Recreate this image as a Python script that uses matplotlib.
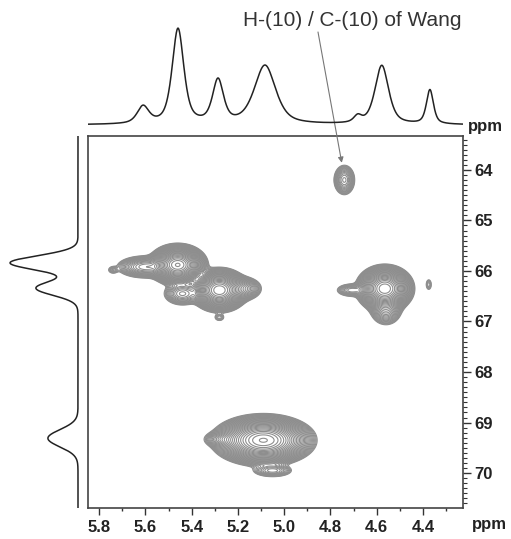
import numpy as np
import matplotlib
matplotlib.use("Agg")
import matplotlib.pyplot as plt
from matplotlib.ticker import MultipleLocator

# ---------------- data ----------------
# 1D proton projection (top): position ppm, relative height, half width (ppm)
h_pos = [5.610, 5.459, 5.286, 5.083, 4.682, 4.578, 4.370]
h_amp = [0.18, 1.00, 0.45, 0.62, 0.07, 0.62, 0.36]
h_wid = [0.030, 0.030, 0.028, 0.055, 0.020, 0.035, 0.018]

# 1D carbon projection (left)
c_pos = [65.84, 66.34, 69.31]
c_amp = [0.97, 0.60, 0.43]
c_wid = [0.14, 0.14, 0.17]

# 2D cross-peak components: H ppm, C ppm, sigma H, sigma C, amplitude
xp_h   = [5.460, 5.600, 5.740, 5.440, 5.280, 5.180, 5.280, 4.565, 4.710, 4.560, 4.375, 4.740, 5.090, 5.270, 5.050]
xp_c   = [65.88, 65.92, 65.98, 66.45, 66.38, 66.35, 66.92, 66.35, 66.38, 66.75, 66.27, 64.20, 69.35, 69.33, 69.95]
xp_sh  = [0.040, 0.050, 0.012, 0.035, 0.040, 0.035, 0.012, 0.040, 0.030, 0.030, 0.008, 0.020, 0.070, 0.035, 0.040]
xp_sc  = [0.130, 0.090, 0.040, 0.100, 0.140, 0.100, 0.040, 0.150, 0.060, 0.140, 0.070, 0.130, 0.160, 0.070, 0.060]
xp_amp = [1.00, 0.08, 0.012, 0.05, 0.80, 0.06, 0.012, 0.80, 0.03, 0.05, 0.010, 0.050, 1.00, 0.03, 0.03]

x_ticks = [5.8, 5.6, 5.4, 5.2, 5.0, 4.8, 4.6, 4.4]
y_ticks = [64, 65, 66, 67, 68, 69, 70]
annot_text = "H-(10) / C-(10) of Wang"
annot_xy = (4.751, 63.86)

# ---------------- figure ----------------
W, H = 511, 539
fig = plt.figure(figsize=(W / 100, H / 100), dpi=100)
plt.rcParams['font.family'] = ['Liberation Sans', 'DejaVu Sans']

def rect(l, t, r, b):
    return [l / W, 1 - b / H, (r - l) / W, (b - t) / H]

xlim = (5.848, 4.227)
ylim = (70.69, 63.33)

ax = fig.add_axes(rect(88, 136, 463, 508))
axt = fig.add_axes(rect(88, 20, 463, 130))
axl = fig.add_axes(rect(5, 136, 85, 508))

# 2D contour
gx = np.linspace(xlim[0], xlim[1], 700)
gy = np.linspace(ylim[1], ylim[0], 700)
X, Y = np.meshgrid(gx, gy)
Z = np.zeros_like(X)
for h0, c0, sh, sc, a in zip(xp_h, xp_c, xp_sh, xp_sc, xp_amp):
    Z += a * np.exp(-0.5 * (((X - h0) / sh) ** 2 + ((Y - c0) / sc) ** 2))
levels = np.geomspace(0.004, 0.97, 30)
ax.contour(X, Y, Z, levels=levels, colors='#8e8e8e', linewidths=0.8)

ax.set_xlim(*xlim)
ax.set_ylim(*ylim)
ax.xaxis.set_minor_locator(MultipleLocator(0.1))
ax.set_xticks(x_ticks)
ax.set_xticklabels([f"{v:.1f}" for v in x_ticks])
ax.yaxis.set_minor_locator(MultipleLocator(0.1))
ax.set_yticks(y_ticks)
ax.set_yticklabels([str(v) for v in y_ticks])
ax.yaxis.tick_right()
ax.tick_params(axis='x', which='major', direction='out', length=5, width=1.0,
               pad=4, labelsize=12, colors='#333333')
ax.tick_params(axis='x', which='minor', direction='out', length=2.5, width=1.0, colors='#333333')
ax.tick_params(axis='y', which='major', direction='out', length=6, width=1.0,
               pad=2, labelsize=12, colors='#333333')
ax.tick_params(axis='y', which='minor', direction='out', length=3, width=0.8, colors='#333333')
for lab in ax.get_xticklabels() + ax.get_yticklabels():
    lab.set_fontweight('bold')
    lab.set_color('#222222')
for s in ax.spines.values():
    s.set_color('#444444')
    s.set_linewidth(1.2)

# top projection (pseudo-Voigt lines)
hx = np.linspace(xlim[0], xlim[1], 1500)
hy = np.zeros_like(hx)
for p, a, w in zip(h_pos, h_amp, h_wid):
    lor = 1 / (1 + ((hx - p) / w) ** 2)
    gau = np.exp(-np.log(2) * ((hx - p) / w) ** 2)
    hy += a * (0.6 * lor + 0.4 * gau)
axt.plot(hx, hy, color='#222222', lw=1.1)
axt.set_xlim(*xlim)
axt.set_ylim(-0.053, 1.105)
axt.axis('off')

# left projection
cy = np.linspace(ylim[1] + 0.01, ylim[0] - 0.01, 1500)
cx = np.zeros_like(cy)
for p, a, w in zip(c_pos, c_amp, c_wid):
    cx += a * np.exp(-0.5 * ((cy - p) / w) ** 2)
axl.plot(cx, cy, color='#222222', lw=1.1)
axl.set_xlim(1.043, -0.1)
axl.set_ylim(*ylim)
axl.axis('off')

# ppm labels
fig.text(468 / W, 1 - 127 / H, "ppm", fontsize=12, fontweight='bold',
         color='#222222', ha='left', va='center')
fig.text(472 / W, 1 - 525 / H, "ppm", fontsize=12, fontweight='bold',
         color='#222222', ha='left', va='center')

# annotation
fig.text(352 / W, 1 - 20 / H, annot_text, fontsize=15, color='#333333',
         ha='center', va='center')
ax.annotate("", xy=annot_xy, xycoords='data',
            xytext=(318, H - 32), textcoords='figure pixels',
            arrowprops=dict(arrowstyle='-|>', color='#777777', lw=0.8,
                            mutation_scale=8, shrinkA=0, shrinkB=0),
            annotation_clip=False)

fig.savefig("out.png", dpi=100)
